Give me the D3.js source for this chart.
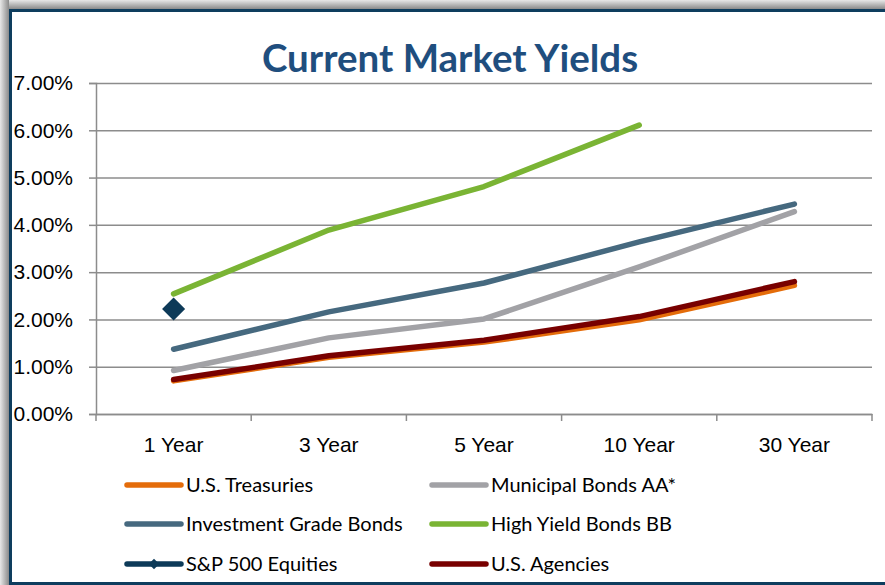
<!DOCTYPE html>
<html>
<head>
<meta charset="utf-8">
<script src="https://cdn.jsdelivr.net/npm/d3@7"></script>
<style>
  html, body { margin: 0; padding: 0; background: #fff; }
  svg { display: block; font-family: Lato, "Noto Sans", sans-serif; }
</style>
</head>
<body>
<div id="chart"></div>
<script>
// 資料
var categories = ['1 Year', '3 Year', '5 Year', '10 Year', '30 Year'];
var yTicks = [0, 0.01, 0.02, 0.03, 0.04, 0.05, 0.06, 0.07];
var treasuries = [0.0070, 0.0120, 0.0152, 0.0199, 0.0272];
var municipal = [0.0092, 0.0161, 0.0201, 0.0311, 0.0428];
var investmentGrade = [0.0137, 0.0216, 0.0277, 0.0364, 0.0444];
var highYield = [0.0254, 0.0389, 0.0481, 0.0611, null];
var sp500 = [0.0222, null, null, null, null];
var agencies = [0.0073, 0.0123, 0.0156, 0.0206, 0.0280];

var seriesList = [
  {name: 'U.S. Treasuries', values: treasuries, color: '#E46C0A'},
  {name: 'Municipal Bonds AA*', values: municipal, color: '#A2A2A6'},
  {name: 'Investment Grade Bonds', values: investmentGrade, color: '#46697F'},
  {name: 'High Yield Bonds BB', values: highYield, color: '#7AB434'},
  {name: 'S&P 500 Equities', values: sp500, color: '#0D3A58', marker: true},
  {name: 'U.S. Agencies', values: agencies, color: '#780000'}
];
// 畫布
const width = 885, height = 585;
const margin = {top: 83, right: 13, bottom: 171, left: 96};
var svg = d3.select('#chart').append('svg')
  .attr('width', width)
  .attr('height', height);

// 外框 (陰影 + 藍邊)
var defs = svg.append('defs');
var gl = defs.append('linearGradient').attr('id', 'shL').attr('x1', 0).attr('x2', 1).attr('y1', 0).attr('y2', 0);
gl.append('stop').attr('offset', 0).attr('stop-color', '#e8e8e8');
gl.append('stop').attr('offset', 1).attr('stop-color', '#8a8a8a');
var gt = defs.append('linearGradient').attr('id', 'shT').attr('x1', 0).attr('x2', 0).attr('y1', 0).attr('y2', 1);
gt.append('stop').attr('offset', 0).attr('stop-color', '#e8e8e8');
gt.append('stop').attr('offset', 1).attr('stop-color', '#8a8a8a');
svg.append('rect').attr('x', 0).attr('y', 0).attr('width', width).attr('height', 9).attr('fill', 'url(#shT)');
svg.append('rect').attr('x', 0).attr('y', 0).attr('width', 9).attr('height', height).attr('fill', 'url(#shL)');
svg.append('rect').attr('x', 9).attr('y', 9).attr('width', width - 9).attr('height', 3).attr('fill', '#0E3D5E');
svg.append('rect').attr('x', 9).attr('y', 9).attr('width', 3).attr('height', height - 9).attr('fill', '#0E3D5E');
svg.append('rect').attr('x', 9).attr('y', 582).attr('width', width - 9).attr('height', 3).attr('fill', '#0E3D5E');

// 標題
svg.append('text')
  .attr('x', 450)
  .attr('y', 72)
  .attr('text-anchor', 'middle')
  .style('font-size', '38.5px')
  .style('font-weight', 'bold')
  .style('fill', '#1F4E7E')
  .text('Current Market Yields');

// 比例尺
var x = d3.scaleBand()
  .domain(categories)
  .range([margin.left, width - margin.right])
  .padding(0);
var y = d3.scaleLinear()
  .domain([0, 0.07])
  .range([height - margin.bottom, margin.top]);

// 格線
svg.append('g')
  .attr('class', 'grid')
  .attr('transform', `translate(${margin.left},0)`)
  .call(d3.axisLeft(y).tickValues(yTicks).tickSize(-(width - margin.right - margin.left)).tickFormat(''))
  .call(g => g.select('.domain').remove())
  .selectAll('.tick line')
  .attr('stroke', '#8C8C8C')
  .attr('stroke-width', 1.5);

// Y軸
var yAxis = svg.append('g')
  .attr('transform', `translate(${margin.left},0)`)
  .call(d3.axisLeft(y).tickValues(yTicks).tickSize(7).tickPadding(16).tickFormat(d3.format('.2%')));
yAxis.select('.domain').attr('stroke', '#8C8C8C').attr('stroke-width', 1.5);
yAxis.selectAll('.tick line').attr('stroke', '#8C8C8C').attr('stroke-width', 1.5);
yAxis.selectAll('.tick text').style('font-size', '21px').style('fill', '#000');

// X軸
var xAxis = svg.append('g')
  .attr('transform', `translate(0,${y(0)})`)
  .call(d3.axisBottom(x).tickSize(0).tickPadding(23));
xAxis.select('.domain').attr('stroke', '#8C8C8C').attr('stroke-width', 1.5);
xAxis.selectAll('.tick text').style('font-size', '21px').style('fill', '#000');
var bounds = categories.map(c => x(c)).concat([x.range()[1]]);
xAxis.selectAll('line.bound')
  .data(bounds)
  .enter()
  .append('line')
  .attr('class', 'bound')
  .attr('x1', d => d).attr('x2', d => d)
  .attr('y1', 0).attr('y2', 7)
  .attr('stroke', '#8C8C8C')
  .attr('stroke-width', 1.5);

// 線
var line = d3.line()
  .defined(d => d.v != null)
  .x(d => x(d.c) + x.bandwidth() / 2)
  .y(d => y(d.v));

seriesList.forEach(function(s) {
  var pts = categories.map((c, i) => ({c: c, v: s.values[i]}));
  var valid = pts.filter(d => d.v != null);
  if (valid.length > 1) {
    svg.append('path')
      .datum(pts)
      .attr('d', line)
      .attr('fill', 'none')
      .attr('stroke', s.color)
      .attr('stroke-width', 5.5)
      .attr('stroke-linecap', 'round')
      .attr('stroke-linejoin', 'round');
  }
  if (s.marker) {
    svg.selectAll(null)
      .data(valid)
      .enter()
      .append('path')
      .attr('d', d3.symbol().type(d3.symbolDiamond2).size(340))
      .attr('transform', d => `translate(${x(d.c) + x.bandwidth() / 2},${y(d.v)})`)
      .attr('fill', s.color);
  }
});

// 圖例
var legendCols = [127, 432];
var legendRows = [485, 524, 564];
var legend = svg.selectAll('g.legend')
  .data(seriesList)
  .enter()
  .append('g')
  .attr('class', 'legend')
  .attr('transform', (d, i) => `translate(${legendCols[i % 2]},${legendRows[Math.floor(i / 2)]})`);
legend.append('line')
  .attr('x1', 0).attr('x2', 54)
  .attr('y1', 0).attr('y2', 0)
  .attr('stroke', d => d.color)
  .attr('stroke-width', 5.5)
  .attr('stroke-linecap', 'round');
legend.filter(d => d.marker)
  .append('path')
  .attr('d', d3.symbol().type(d3.symbolDiamond2).size(70))
  .attr('transform', 'translate(27,0)')
  .attr('fill', d => d.color);
legend.append('text')
  .attr('x', 59)
  .attr('y', 0)
  .attr('dy', '0.35em')
  .style('font-size', '20px')
  .style('fill', '#000')
  .text(d => d.name);
</script>
</body>
</html>
